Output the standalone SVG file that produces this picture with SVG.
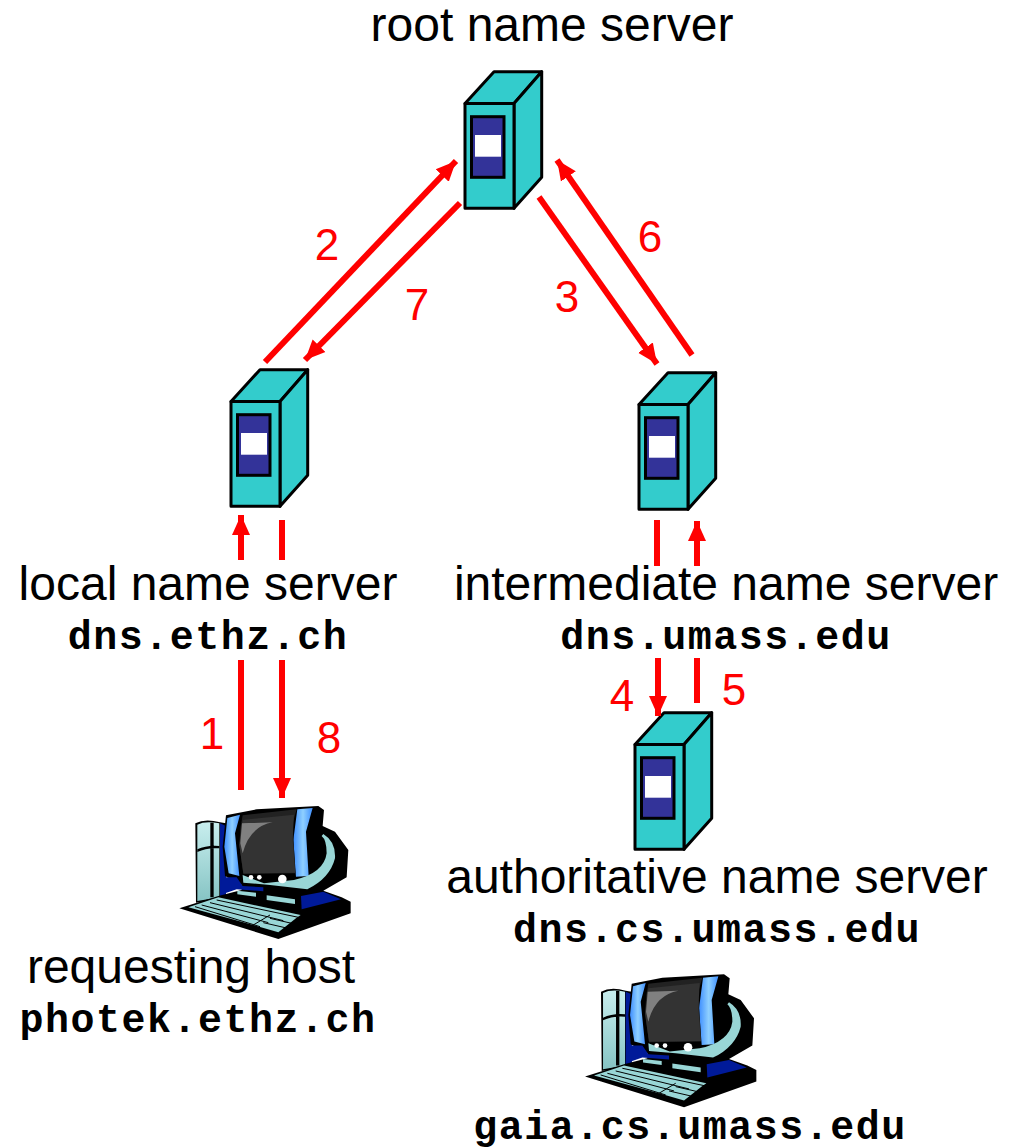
<svg xmlns="http://www.w3.org/2000/svg" width="1012" height="1147" viewBox="0 0 1012 1147">
<style>
.l{font:48px "Liberation Sans",Arial,sans-serif;fill:#000;text-anchor:middle}
.m{font:bold 40px "Liberation Mono","Courier New",monospace;letter-spacing:1.500px;fill:#000;text-anchor:middle}
.n{font:44px "Liberation Sans",Arial,sans-serif;fill:#f00;text-anchor:middle}
.c{fill:none;stroke:#f00;stroke-width:6}
.a{fill:#f00}
.t{fill:#33cccc;stroke:#000;stroke-width:3;stroke-linejoin:round}
.k{fill:#000}
.v{fill:#99d6d6}
.d{fill:#001a99}
</style>
<defs>
<marker id="h" markerUnits="userSpaceOnUse" markerWidth="22" markerHeight="22" refX="20" refY="10" orient="auto"><path d="M0 1L20 10L0 19Z" class="a"/></marker>
<linearGradient id="tw" x1="0" y1="0" x2="0" y2="1"><stop offset="0" stop-color="#c8eeee"/><stop offset="1" stop-color="#86c4c4"/></linearGradient>
<linearGradient id="bz" x1="0" y1="0" x2="1" y2="0"><stop offset="0" stop-color="#3f8fff"/><stop offset=".5" stop-color="#8fd0ff"/><stop offset="1" stop-color="#3f8fff"/></linearGradient>
<g id="srv">
<path class="t" d="M465 103.500L494 71.700H541.700L514 103.500Z"/>
<path class="t" d="M514 103.500L541.700 71.700V177.300L514 208.300Z"/>
<rect class="t" x="465" y="103.500" width="49" height="104.800"/>
<rect x="471.500" y="116.700" width="32.500" height="60.600" fill="#333399" stroke="#000" stroke-width="3"/>
<rect x="475" y="135" width="26" height="21.700" fill="#fff"/>
</g>
<g id="pc">
<path class="k" d="M76 100Q105 85 150 97L168 100V325L78 338Z"/>
<path d="M82 104Q105 92 148 100V322L82 333Z" fill="url(#tw)"/>
<path class="k" d="M121 98h10v224h-10zM82 178Q110 165 148 168v7Q110 172 82 186Z"/>
<path class="d" d="M150 100L168 108V320H150Z"/>
<path class="k" d="M28 355L145 318L215 300L215 285L165 258L158 170L168 76L260 58L445 48L462 60L458 108L495 125L535 180L530 262L460 302L515 322L542 335V370L325 447Z"/>
<path class="d" d="M155 262L200 262L218 288L280 292V304L200 298L150 315Z"/>
<path class="d" d="M393 318L460 305L513 328L395 358Z"/>
<path d="M172 84L210 74L195 130L208 258L176 250L163 170Z" fill="url(#bz)"/>
<path d="M382 58L428 54L408 125L416 258L378 260L370 150Z" fill="url(#bz)"/>
<path d="M218 76L380 58L368 100L376 250L220 252L208 165L212 110Z" fill="#222"/>
<path d="M218 90L372 74L368 150L376 248L220 250L208 165Z" fill="#333"/>
<path d="M216 100L308 97Q238 110 218 190L211 160Z" fill="#808080"/>
<path d="M460 132Q498 155 495 205Q480 265 412 298L300 285L220 278L218 255L282 280L372 270Q462 250 470 190Q470 150 455 138Z" fill="#99d6d6"/>
<circle cx="243" cy="262" r="7" fill="#fff"/><circle cx="268" cy="262" r="7" fill="#fff"/><circle cx="337" cy="267" r="13" fill="#fff"/>
<path class="v" d="M202 302L258 308V320L202 313ZM290 316L375 328V342L290 330Z"/>
<path class="v" d="M145 322L392 375L378 385L325 427L250 405L55 352Z"/>
<path d="M140 330L385 382M120 338L340 392M95 345L295 398M75 350L270 410M300 375L250 405M300 385L365 400M280 398L345 413" stroke="#000" stroke-width="3" fill="none"/>
</g>
</defs>
<g id="root-server"><use href="#srv"/></g>
<g id="local-server"><use href="#srv" x="-234" y="298"/></g>
<g id="intermediate-server"><use href="#srv" x="174" y="301"/></g>
<g id="authoritative-server"><use href="#srv" x="170" y="641"/></g>
<g id="requesting-host"><use href="#pc" transform="translate(170 790) scale(.3333)"/></g>
<g id="gaia-host"><use href="#pc" transform="translate(575.700 958.300) scale(.3333)"/></g>
<g id="connectors">
<path class="c" d="M265 362L456 161" marker-end="url(#h)"/>
<path class="c" d="M460 203L305 360" marker-end="url(#h)"/>
<path class="c" d="M539 197L657 364" marker-end="url(#h)"/>
<path class="c" d="M692 355L557 160" marker-end="url(#h)"/>
<path class="c" d="M241 560V515" marker-end="url(#h)"/>
<path class="c" d="M241 660V790"/>
<path class="c" d="M282 520V560"/>
<path class="c" d="M282 660V798" marker-end="url(#h)"/>
<path class="c" d="M657 520V566"/>
<path class="c" d="M697 566V521" marker-end="url(#h)"/>
<path class="c" d="M658 658V716" marker-end="url(#h)"/>
<path class="c" d="M697 658V703"/>
</g>
<g id="labels">
<text class="l" x="552" y="41">root name server</text>
<text class="l" x="208" y="600">local name server</text>
<text class="m" x="208" y="649">dns.ethz.ch</text>
<text class="l" x="726" y="600">intermediate name server</text>
<text class="m" x="726" y="649">dns.umass.edu</text>
<text class="l" x="717" y="893">authoritative name server</text>
<text class="m" x="717" y="942">dns.cs.umass.edu</text>
<text class="l" x="191" y="983">requesting host</text>
<text class="m" x="198" y="1032">photek.ethz.ch</text>
<text class="m" x="690" y="1139">gaia.cs.umass.edu</text>
<text class="n" x="327" y="260">2</text>
<text class="n" x="417" y="320">7</text>
<text class="n" x="567" y="312">3</text>
<text class="n" x="650" y="252">6</text>
<text class="n" x="212" y="749">1</text>
<text class="n" x="329" y="753">8</text>
<text class="n" x="622" y="711">4</text>
<text class="n" x="734" y="705">5</text>
</g>
</svg>
